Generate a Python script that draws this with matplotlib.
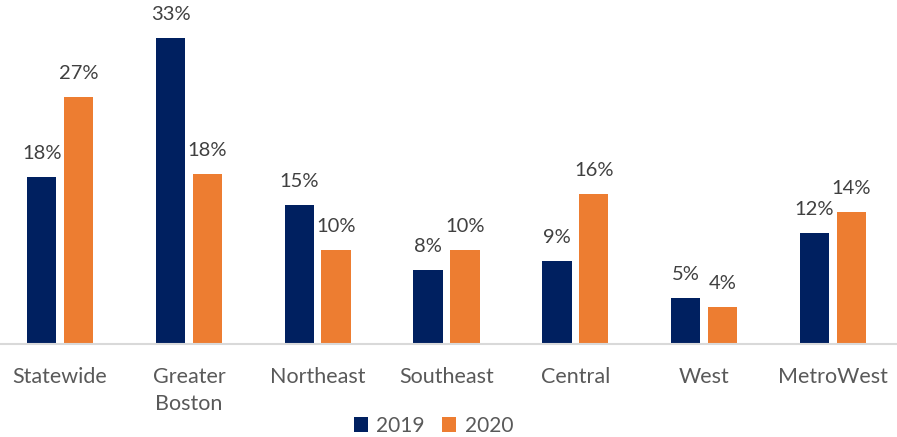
import numpy as np
import matplotlib.pyplot as plt

# regions and shares for each year
regions = ["Statewide", "Greater\nBoston", "Northeast", "Southeast", "Central", "West", "MetroWest"]
y2019 = [18.0, 33.0, 15.0, 7.9, 8.9, 4.9, 11.9]
y2020 = [26.6, 18.3, 10.1, 10.1, 16.2, 3.9, 14.2]

navy = "#002060"
orange = "#ED7D31"
grey = "#595959"

plt.rcParams['font.family'] = ['Lato', 'DejaVu Sans']

fig = plt.figure(figsize=(8.97, 4.37), dpi=100)
ax = fig.add_axes([0, 93.5 / 437, 1, 333.5 / 437])

x = np.arange(len(regions))
w = 0.228
off = 0.143
b1 = ax.bar(x - off, y2019, w, color=navy, label="2019")
b2 = ax.bar(x + off, y2020, w, color=orange, label="2020")

for bars, vals in [(b1, y2019), (b2, y2020)]:
    for b, v in zip(bars, vals):
        ax.annotate(f"{v:.0f}%", (b.get_x() + b.get_width() / 2, v),
                    xytext=(0, 17), textcoords="offset points",
                    ha="center", va="center", fontsize=14.5, color="#404040")

ax.set_xlim(-0.467, 6.497)
ax.set_ylim(0, 36.05)
ax.set_xticks(x)
ax.set_xticklabels(regions, fontsize=15.5, color=grey, linespacing=1.4)
ax.tick_params(axis="x", length=0, pad=17)
ax.set_yticks([])
for s in ["top", "right", "left"]:
    ax.spines[s].set_visible(False)
ax.spines["bottom"].set_color("#D9D9D9")
ax.spines["bottom"].set_linewidth(1.5)

fig.legend(loc="lower center", bbox_to_anchor=(0.483, -0.04), ncol=2, frameon=False,
           fontsize=15, labelcolor=grey, handlelength=0.7, handleheight=0.7,
           handletextpad=0.4, columnspacing=0.8)

fig.savefig("out.png", dpi=100)
